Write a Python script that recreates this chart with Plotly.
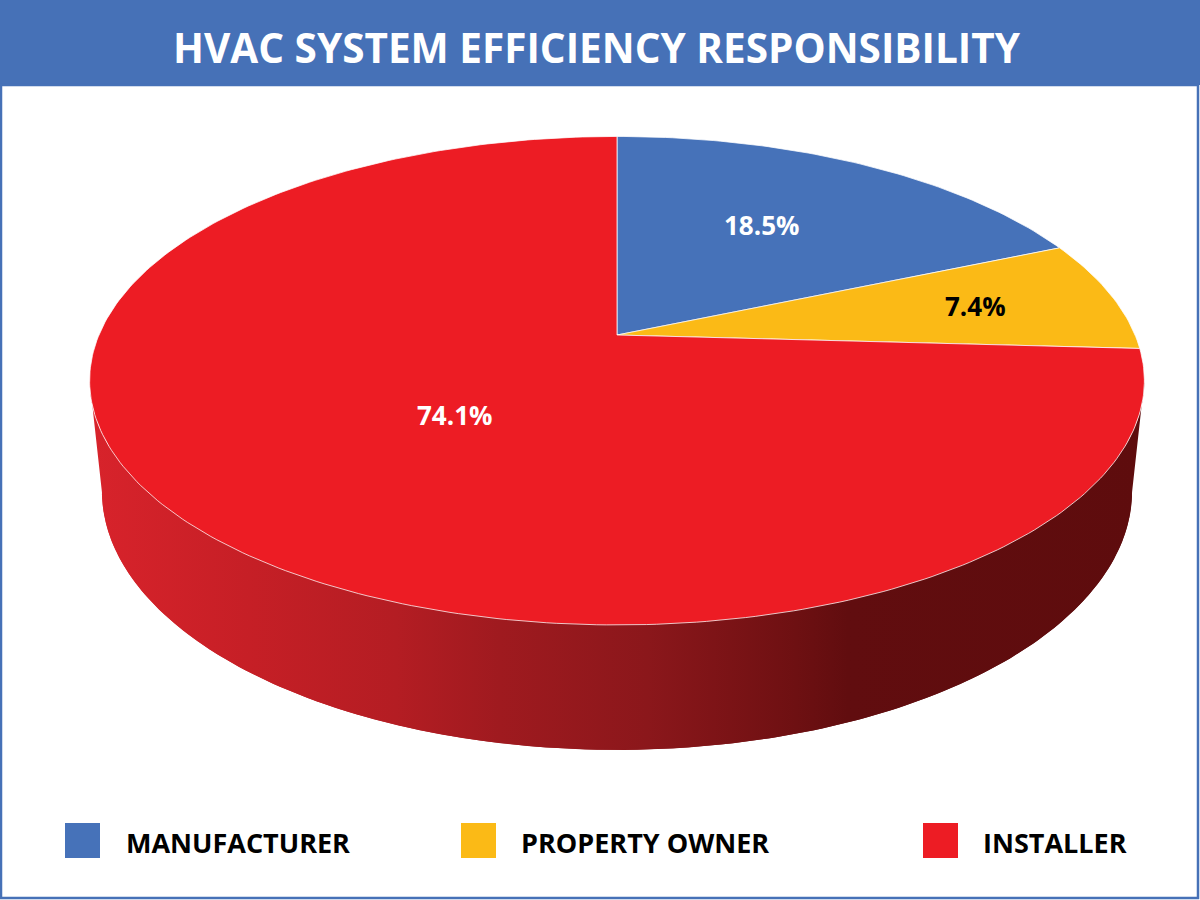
import math
import numpy as np
import plotly.graph_objects as go

# ---------------- data ----------------
categories = ["MANUFACTURER", "PROPERTY OWNER", "INSTALLER"]
values = [18.5, 7.4, 74.1]
title_text = "HVAC SYSTEM EFFICIENCY RESPONSIBILITY"

# ---------------- style ----------------
slice_colors = ["#4672B9", "#FBBA16", "#ED1C24"]
label_colors = ["white", "black", "white"]
label_radius = [0.55, 0.72, 0.41]
label_yshift = [10, 0, -10]
legend_square_x = [65, 461, 923]
legend_text_x = [124, 519, 981]
side_colorscale = [
    [0.00, "#d8232b"], [0.15, "#c61f26"], [0.29, "#b41d23"], [0.39, "#9f1a1f"],
    [0.53, "#8b171b"], [0.67, "#6e1012"], [0.72, "#610d0f"], [1.00, "#5e0c0d"],
]
BAND = "#4671B7"
FONT = "Open Sans"

# perspective camera for the 3D pie (pixel space)
CX, CY = 617, 335
FOC = 2467.0
DIST = 1.0
RAD = 0.21
SPHI = 0.455
CPHI = math.sqrt(1 - SPHI ** 2)
DEPTH = 0.0506


def project(theta, rfrac=1.0, h=0.0):
    X = RAD * rfrac * np.cos(theta)
    Y = RAD * rfrac * np.sin(theta)
    yc = Y * SPHI + h * CPHI
    zc = DIST + Y * CPHI - h * SPHI
    return CX + FOC * X / zc, CY - FOC * yc / zc


fig = go.Figure()

# ----- side wall (only front visible) -----
k = RAD * CPHI / DIST
t_left = math.pi + math.asin(k)
t_right = 2 * math.pi - math.asin(k)
tt = np.linspace(t_left, t_right, 300)
xt, yt = project(tt, 1.0, 0.0)
xb, yb = project(tt[::-1], 1.0, -DEPTH)
full = np.linspace(0, 2 * math.pi, 400)
xbf, ybf = project(full, 1.0, -DEPTH)
grad = dict(type="horizontal", colorscale=side_colorscale, start=90, stop=1143)
fig.add_trace(go.Scatter(x=list(xbf), y=list(ybf), fill="toself", mode="lines",
                         line=dict(width=0), fillgradient=grad, hoverinfo="skip",
                         showlegend=False))
fig.add_trace(go.Scatter(x=list(xt) + list(xb), y=list(yt) + list(yb), fill="toself",
                         mode="lines", line=dict(width=0), fillgradient=grad,
                         hoverinfo="skip", showlegend=False))

# ----- top face slices -----
total = float(sum(values))
cum = 0.0
for i, (cat, v) in enumerate(zip(categories, values)):
    a0 = math.pi / 2 - 2 * math.pi * cum / total
    a1 = math.pi / 2 - 2 * math.pi * (cum + v) / total
    n = max(8, int(abs(a1 - a0) / (2 * math.pi) * 400))
    th = np.linspace(a0, a1, n)
    px, py = project(th)
    xs = [CX] + list(px) + [CX]
    ys = [CY] + list(py) + [CY]
    fig.add_trace(go.Scatter(x=xs, y=ys, fill="toself", mode="lines",
                             fillcolor=slice_colors[i],
                             line=dict(color="rgba(255,255,255,0.75)", width=1),
                             name=cat, hoverinfo="name", showlegend=False))
    am = (a0 + a1) / 2
    lx, ly = project(am, label_radius[i])
    fig.add_annotation(x=float(lx), y=float(ly), text=f"<b>{v:.1f}%</b>",
                       showarrow=False, yshift=label_yshift[i],
                       font=dict(family=FONT, size=26, color=label_colors[i]))
    cum += v

# ----- title band & border -----
fig.add_shape(type="rect", xref="x", yref="y", x0=0, x1=1200, y0=0, y1=85,
              fillcolor=BAND, line=dict(width=0), layer="below")
fig.add_shape(type="rect", xref="x", yref="y", x0=1, x1=1198, y0=85, y1=898,
              fillcolor="rgba(0,0,0,0)", line=dict(color=BAND, width=2.5), layer="above")
fig.add_annotation(x=597, y=47, xref="x", yref="y", text=f"<b>{title_text}</b>",
                   showarrow=False, font=dict(family=FONT, size=40.5, color="white"))

# ----- legend -----
for i, cat in enumerate(categories):
    x0 = legend_square_x[i]
    fig.add_shape(type="rect", xref="x", yref="y", x0=x0, x1=x0 + 35, y0=823, y1=858,
                  fillcolor=slice_colors[i], line=dict(width=0))
    fig.add_annotation(x=legend_text_x[i], y=842, xref="x", yref="y", xanchor="left",
                       text=f"<b>{cat}</b>", showarrow=False,
                       font=dict(family=FONT, size=27, color="black"))

fig.update_layout(
    width=1200, height=900,
    margin=dict(l=0, r=0, t=0, b=0),
    paper_bgcolor="white", plot_bgcolor="white",
    xaxis=dict(range=[0, 1200], visible=False, fixedrange=True),
    yaxis=dict(range=[900, 0], visible=False, fixedrange=True),
    showlegend=False,
)

fig.write_html("out.html", config={"displayModeBar": False},
               post_script="document.body.style.margin='0';document.body.style.overflow='hidden';")
